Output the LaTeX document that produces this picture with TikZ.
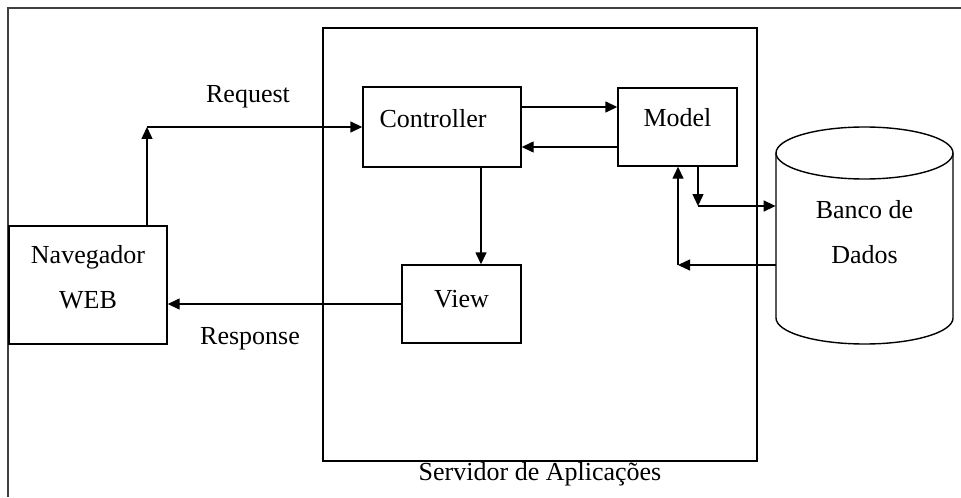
\documentclass[tikz,border=0pt]{standalone}
\usepackage{fontspec}
\setmainfont{Liberation Serif}
\usetikzlibrary{arrows.meta}
\begin{document}
\begin{tikzpicture}[x=0.5pt,y=-0.5pt,
  box/.style={draw, line width=0.7pt, inner sep=0pt},
  arr/.style={-{Triangle[length=6pt,width=5.5pt]}, line width=0.7pt},
  lbl/.style={font=\fontsize{13}{22.5}\selectfont, inner sep=0pt},
  frame/.style={line width=0.9pt, draw=black!75}]
\useasboundingbox (0,0) rectangle (961,497);
% outer frame
\draw[frame] (961,8) -- (8,8) -- (8,497);
% server box
\node[box, minimum width=217pt, minimum height=216.5pt] (srv) at (540,244.5) {};
\node[lbl, anchor=base] (srvlbl) at (540,480) {Servidor de Aplica\c{c}\~oes};
% boxes
\node[box, minimum width=79pt, minimum height=40pt,
  label={[lbl, xshift=-4.5pt, yshift=4pt]center:Controller}] (ctrl) at (442,127) {};
\node[box, minimum width=59.5pt, minimum height=39pt,
  label={[lbl, yshift=4.5pt]center:Model}] (model) at (677.5,127) {};
\node[box, minimum width=59.5pt, minimum height=39pt,
  label={[lbl, yshift=2.5pt]center:View}] (view) at (461.5,304) {};
\node[box, minimum width=79pt, minimum height=59pt,
  label={[lbl, align=center, yshift=3.75pt]center:Navegador\\WEB}] (nav) at (88,285) {};
% database cylinder
\draw[line width=0.7pt] (864.5,153) ellipse [x radius=44.25pt, y radius=13pt];
\draw[line width=0.7pt] (776,153) -- (776,318) arc[start angle=180, end angle=360, x radius=44.25pt, y radius=13pt] -- (953,153);
\node[minimum width=88.5pt, minimum height=82.5pt, inner sep=0pt] (db) at (864.5,235.5) {};
\node[lbl, align=center] (dblbl) at (864.5,232) {Banco de\\Dados};
% labels
\node[lbl] (req) at (248,97) {Request};
\node[lbl] (resp) at (250,339) {Response};
% connectors
\coordinate (rq) at (147,127);
\draw[arr] (rq |- nav.north) -- (rq);
\draw[arr] (rq) -- (ctrl.west |- rq);
\draw[arr] ([yshift=10pt]ctrl.east) -- ([yshift=10pt]ctrl.east -| model.west);
\draw[arr] ([yshift=-10pt]model.west) -- ([yshift=-10pt]model.west -| ctrl.east);
\draw[arr] ([xshift=9.75pt]view.north |- ctrl.south) -- ([xshift=9.75pt]view.north);
\draw[arr] (view.west) -- (view.west -| nav.east);
\coordinate (md) at (698,206);
\draw[arr] (md |- model.south) -- (md);
\draw[arr] (md) -- (md -| db.west);
\coordinate (dm) at (678,265);
\draw[arr] (db.west |- dm) -- (dm);
\draw[arr] (dm) -- (dm |- model.south);
\end{tikzpicture}
\end{document}
